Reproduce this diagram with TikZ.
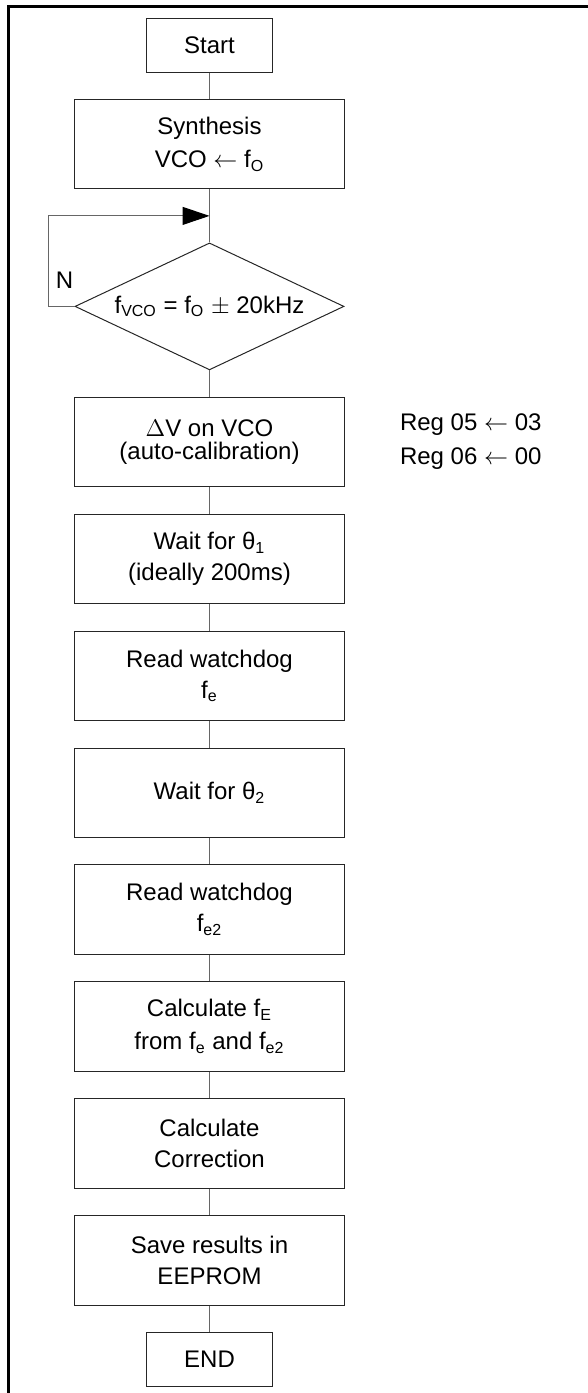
\documentclass[tikz,border=0pt]{standalone}
\usepackage{fontspec}
\setmainfont{Liberation Sans}
\tikzstyle{box}=[rectangle,draw=black!85,line width=0.5pt,
minimum width=135pt,minimum height=44.75pt,align=center,inner sep=2pt]
\tikzstyle{term}=[box,minimum width=63pt,minimum height=27pt]
\tikzstyle{decision}=[diamond,draw=black!85,line width=0.5pt,
minimum width=134.5pt,minimum height=63.5pt,inner sep=0pt,aspect=2]
\tikzstyle{conn}=[draw=black!60,line width=0.5pt]
\newcommand{\lo}[1]{\textsubscript{#1}}
\usetikzlibrary{positioning,shapes.geometric,arrows.meta}

\begin{document}
\begin{tikzpicture}[node distance=13.2pt, font=\fontsize{12pt}{15.5pt}\selectfont]
            \useasboundingbox (0,0) rectangle (294pt,-696.5pt);
            % frame (top and left only)
            \draw[line width=1.5pt] (4pt,-696.5pt) -- (4pt,-3.25pt) -- (294pt,-3.25pt);

            % MAIN FLOW

            \node[term] at (104.75pt,-22.5pt) (start) {Start};
            \node[box, below=of start] (synth) {Synthesis\\[1pt]VCO $\leftarrow$ f\lo{O}};
            \coordinate[below=13.25pt of synth] (merge);
            \node[decision, below=26.5pt of synth] (cmp) {f\lo{VCO} = f\lo{O} $\pm$ 20kHz};
            \node[box, below=of cmp] (dv) {$\Delta$V on VCO\\[-4pt](auto-calibration)};
            \node[box, below=of dv] (wait1) {Wait for θ\lo{1}\\(ideally 200ms)};
            \node[box, below=of wait1] (read1) {Read watchdog\\f\lo{e}};
            \node[box, below=of read1] (wait2) {Wait for θ\lo{2}};
            \node[box, below=of wait2] (read2) {Read watchdog\\f\lo{e2}};
            \node[box, below=of read2] (calc) {Calculate f\lo{E}\\[1pt]from f\lo{e} and f\lo{e2}};
            \node[box, below=of calc] (corr) {Calculate\\Correction};
            \node[box, below=of corr] (save) {Save results in\\EEPROM};
            \node[term, below=of save] (stop) {END};

            \path[conn] (start) edge (synth);
            \path[conn] (synth) edge (cmp);
            \path[conn] (cmp) edge (dv);
            \path[conn] (dv) edge (wait1);
            \path[conn] (wait1) edge (read1);
            \path[conn] (read1) edge (wait2);
            \path[conn] (wait2) edge (read2);
            \path[conn] (read2) edge (calc);
            \path[conn] (calc) edge (corr);
            \path[conn] (corr) edge (save);
            \path[conn] (save) edge (stop);

            % NO LOOP

            \node[inner sep=0pt, above left=9pt and 0.5pt of cmp.west] (nlab) {N};
            \draw[conn,-{Triangle[length=13.5pt,width=9pt,black]}] (cmp.west) -- ++(-13pt,0) |- (merge);

            % REGISTERS

            \node[right=24pt of dv, align=left] (reg) {Reg 05 $\leftarrow$ 03\\[1.5pt]Reg 06 $\leftarrow$ 00};

        \end{tikzpicture}
\end{document}
